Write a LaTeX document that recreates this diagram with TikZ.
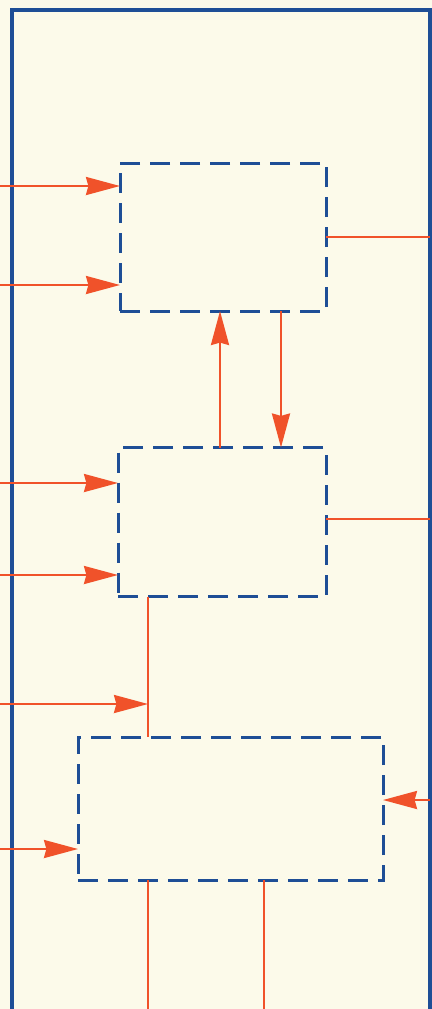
\documentclass[tikz,border=0pt]{standalone}
\usepackage{tikz}
\usetikzlibrary{arrows.meta,calc,positioning}

\definecolor{paper}{RGB}{252,250,234}
\definecolor{frameblue}{RGB}{30,78,150}
\definecolor{sigred}{RGB}{240,82,42}

\tikzset{
  unit/.style={draw=frameblue,line width=1.5pt,dash pattern=on 10pt off 5pt,
    inner sep=0pt,outer sep=0pt,fill=none},
  sig/.style={draw=sigred,line width=1.2pt},
  sigarrow/.style={sig,-{Stealth[length=17pt,width=9pt,inset=1.2pt]}}
}

\begin{document}
\begin{tikzpicture}[x=0.5pt,y=-0.5pt]
  \fill[paper] (0,0) rectangle (432,1009);
  \useasboundingbox (0,0) rectangle (432,1009);

  % outer frame
  \draw[frameblue,line width=1.6pt] (12,1012) -- (12,10) -- (430,10) -- (430,1012);

  % blocks
  \node[unit,minimum width=103pt,minimum height=74pt] (box1) at (223,237) {};
  \node[unit,minimum width=104pt,minimum height=74.5pt] (box2) at (222,522) {};
  \node[unit,minimum width=152.5pt,minimum height=71.5pt] (box3) at (230.5,808.5) {};

  % inputs and outputs at the frame
  \coordinate (in1) at (0,186);
  \coordinate (in2) at (0,285);
  \coordinate (in3) at (0,483);
  \coordinate (in4) at (0,575);
  \coordinate (in5) at (0,704);
  \coordinate (in6) at (0,849);
  \coordinate (in7) at (430,800);
  \coordinate (out1) at (430,237);
  \coordinate (out2) at (430,519);
  \coordinate (out3) at (148,1012);
  \coordinate (out4) at (264,1012);
  \coordinate (up) at (220,0);
  \coordinate (dn) at (281,0);
  \coordinate (j) at (148,704);

  \draw[sigarrow] (in1) -- (in1 -| box1.west);
  \draw[sigarrow] (in2) -- (in2 -| box1.west);
  \draw[sig] (out1 -| box1.east) -- (out1);

  \draw[sigarrow] (in3) -- (in3 -| box2.west);
  \draw[sigarrow] (in4) -- (in4 -| box2.west);
  \draw[sig] (out2 -| box2.east) -- (out2);

  % between the upper blocks
  \draw[sigarrow] (up |- box2.north) -- (up |- box1.south);
  \draw[sigarrow] (dn |- box1.south) -- (dn |- box2.north);

  % into the lower block
  \draw[sig] (j |- box2.south) -- (j |- box3.north);
  \draw[sigarrow] (in5) -- (j);
  \draw[sigarrow] (in6) -- (in6 -| box3.west);
  \draw[sigarrow] (in7) -- (in7 -| box3.east);

  \draw[sig] (out3 |- box3.south) -- (out3);
  \draw[sig] (out4 |- box3.south) -- (out4);
\end{tikzpicture}
\end{document}
